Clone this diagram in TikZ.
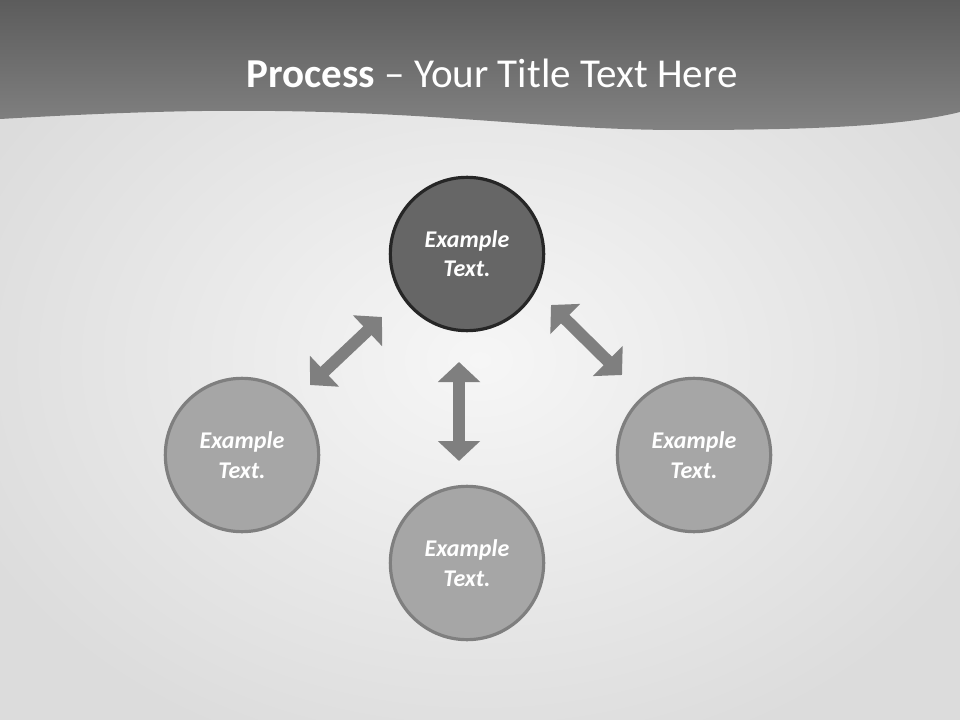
\documentclass[tikz,border=0pt]{standalone}
\usepackage{fontspec}
\setmainfont{Carlito}
\usetikzlibrary{arrows.meta}
\definecolor{hdrtop}{HTML}{5C5C5C}
\definecolor{hdrbot}{HTML}{828282}
\definecolor{bginner}{HTML}{F6F6F6}
\definecolor{bgouter}{HTML}{DCDCDC}
\definecolor{darkfill}{HTML}{666666}
\definecolor{darkedge}{HTML}{262626}
\definecolor{lightfill}{HTML}{A6A6A6}
\definecolor{lightedge}{HTML}{7F7F7F}
\definecolor{arrowgray}{HTML}{7F7F7F}
\tikzset{
  stage/.style={circle, minimum size=115pt, inner sep=0pt, line width=2.4pt,
    fill=lightfill, draw=lightedge, text=white, align=center,
    font=\fontsize{18}{22}\selectfont\bfseries\itshape},
  hubstage/.style={stage, fill=darkfill, draw=darkedge},
  link/.style={draw=arrowgray, line width=9pt,
    {Triangle[width=31pt,length=15pt]}-{Triangle[width=31pt,length=15pt]}},
}
\begin{document}
\begin{tikzpicture}[x=0.75pt,y=-0.75pt]
\useasboundingbox (0,0) rectangle (960,720);
\shade[inner color=bginner, outer color=bgouter] (-80,-60) rectangle (1040,780);
\shade[top color=hdrtop, bottom color=hdrbot]
  (0,0) -- (0,119) .. controls (120,112) and (200,110) .. (275,111)
  .. controls (450,113) and (550,130) .. (680,130)
  .. controls (800,130) and (900,127) .. (960,112) -- (960,0) -- cycle;
\node[text=white, font=\fontsize{30.8}{36}\selectfont, anchor=base] (title) at (492,88)
  {\textbf{Process} – Your Title Text Here};
\node[hubstage] (top) at (467,254) {Example\\Text.};
\node[stage] (left) at (242,455) {Example\\Text.};
\node[stage] (right) at (694,455) {Example\\Text.};
\node[stage] (bottom) at (467,563) {Example\\Text.};
\coordinate (la) at (310,385); \coordinate (lb) at (382,317);
\coordinate (va) at (459,362); \coordinate (vb) at (459,461);
\coordinate (ra) at (551,305); \coordinate (rb) at (622,375);
\draw[link] (la) -- (lb);
\draw[link] (va) -- (vb);
\draw[link] (ra) -- (rb);
\end{tikzpicture}
\end{document}
